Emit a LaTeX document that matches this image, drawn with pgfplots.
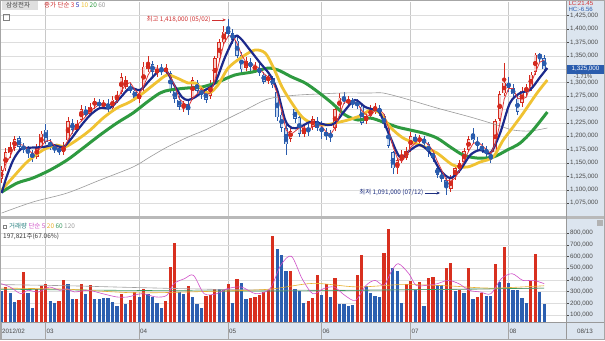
\documentclass[border=0pt]{standalone}
\usepackage{pgfplots}
\pgfplotsset{compat=1.18}
\usepackage{pgfplotstable}
\usetikzlibrary{arrows.meta}
\usepackage{fontspec}
\setmainfont{Liberation Sans}
\newfontfamily\kr{Noto Sans CJK KR}

\definecolor{upred}{HTML}{D42A1E}
\definecolor{upfill}{HTML}{F7CFCB}
\definecolor{dnblue}{HTML}{2A5CAD}
\definecolor{dnfill}{HTML}{CADAF0}
\definecolor{vred}{HTML}{D8301F}
\definecolor{vblue}{HTML}{2C5FB0}
\definecolor{mathree}{HTML}{E0393C}
\definecolor{mafive}{HTML}{1C2A8C}
\definecolor{maten}{HTML}{F0C232}
\definecolor{matwenty}{HTML}{2E9A40}
\definecolor{masixty}{HTML}{9A9A9A}
\definecolor{strip}{HTML}{DCE5EF}
\definecolor{gridc}{HTML}{DDDDDD}
\definecolor{gridv}{HTML}{C8C8C8}
\definecolor{labc}{HTML}{4A4A4A}
\definecolor{hic}{HTML}{D03030}
\definecolor{loc}{HTML}{1E2F80}
\definecolor{vmafive}{HTML}{D050C8}
\definecolor{vmatwenty}{HTML}{E8B030}
\definecolor{vmasixty}{HTML}{3A9A60}
\definecolor{vmaonetwenty}{HTML}{A0A0A0}

\pgfplotstableread{
i o h l c v vu m
0 1120 1145 1112 1137 302 0 1125
1 1140 1178 1135 1170 339 1 1148
2 1168 1190 1160 1180 291 0 1162
3 1178 1200 1172 1195 211 0 1182
4 1196 1200 1175 1180 231 1 1185
5 1182 1188 1168 1175 468 1 1183
6 1176 1182 1160 1170 288 0 1175
7 1168 1175 1152 1160 160 0 1168
8 1162 1185 1158 1178 325 1 1169
9 1180 1210 1178 1205 345 1 1181
10 1212 1222 1185 1190 362 1 1191
11 1188 1195 1175 1182 217 0 1192
12 1180 1186 1168 1175 203 0 1182
13 1176 1182 1165 1172 220 1 1176
14 1170 1190 1165 1180 402 1 1176
15 1192 1235 1190 1228 362 0 1193
16 1225 1232 1205 1212 234 0 1207
17 1212 1230 1208 1222 236 1 1221
18 1230 1258 1228 1250 362 1 1228
19 1248 1256 1236 1240 282 0 1237
20 1242 1262 1238 1255 359 1 1248
21 1258 1272 1250 1265 234 0 1253
22 1262 1270 1250 1258 234 0 1259
23 1256 1268 1250 1262 245 0 1262
24 1260 1270 1245 1250 245 0 1257
25 1252 1275 1248 1268 211 0 1260
26 1268 1285 1262 1275 177 0 1264
27 1282 1318 1278 1310 282 1 1284
28 1292 1312 1288 1305 197 0 1297
29 1292 1300 1280 1285 225 1 1300
30 1285 1290 1266 1272 297 1 1287
31 1270 1285 1262 1278 254 0 1278
32 1290 1338 1285 1330 325 1 1293
33 1325 1350 1320 1335 282 0 1314
34 1335 1340 1312 1320 254 0 1328
35 1318 1332 1310 1325 203 0 1327
36 1326 1335 1315 1320 163 0 1322
37 1320 1335 1312 1328 217 1 1324
38 1318 1322 1280 1285 510 1 1311
39 1285 1290 1262 1270 715 1 1294
40 1268 1275 1248 1255 297 0 1270
41 1255 1265 1245 1260 282 0 1262
42 1260 1265 1240 1248 345 1 1254
43 1272 1310 1268 1305 254 0 1271
44 1300 1305 1280 1285 197 0 1279
45 1285 1292 1270 1278 163 0 1289
46 1282 1290 1262 1268 263 1 1277
47 1275 1305 1270 1298 274 1 1281
48 1300 1350 1296 1345 325 1 1304
49 1345 1382 1340 1375 320 0 1339
50 1375 1405 1370 1395 317 0 1372
51 1400 1418 1385 1390 362 1 1387
52 1392 1400 1372 1380 203 0 1388
53 1378 1385 1345 1350 405 1 1373
54 1352 1358 1318 1325 377 0 1352
55 1328 1348 1322 1340 234 0 1338
56 1338 1345 1322 1330 245 1 1332
57 1325 1338 1318 1330 254 1 1333
58 1328 1335 1312 1318 274 1 1326
59 1315 1320 1298 1302 297 1 1317
60 1305 1315 1298 1310 311 1 1310
61 1308 1312 1290 1295 775 1 1302
62 1282 1285 1228 1235 667 0 1280
63 1240 1245 1208 1215 610 0 1248
64 1215 1222 1165 1185 476 0 1212
65 1195 1215 1190 1210 478 1 1203
66 1250 1255 1225 1232 325 0 1209
67 1235 1240 1198 1205 302 0 1216
68 1205 1222 1198 1215 203 0 1217
69 1215 1222 1200 1210 217 1 1210
70 1218 1238 1212 1232 245 1 1219
71 1228 1235 1210 1215 445 1 1219
72 1215 1228 1195 1210 274 0 1219
73 1208 1215 1192 1200 362 1 1208
74 1205 1212 1190 1198 254 0 1203
75 1215 1255 1210 1250 419 1 1216
76 1250 1280 1245 1272 197 0 1240
77 1272 1282 1260 1265 195 0 1262
78 1262 1275 1255 1268 174 0 1268
79 1268 1272 1252 1260 188 0 1264
80 1262 1270 1250 1258 445 1 1262
81 1255 1260 1220 1225 616 1 1248
82 1228 1245 1222 1238 348 0 1240
83 1238 1258 1232 1250 291 0 1238
84 1248 1262 1242 1255 263 0 1248
85 1252 1258 1238 1245 254 0 1250
86 1238 1242 1215 1222 630 1 1241
87 1215 1220 1178 1182 838 1 1216
88 1170 1172 1130 1140 505 0 1181
89 1140 1160 1130 1155 473 0 1159
90 1155 1175 1150 1165 203 0 1153
91 1160 1180 1155 1172 362 1 1164
92 1175 1208 1170 1200 388 1 1179
93 1198 1205 1185 1190 317 0 1187
94 1192 1202 1186 1195 382 1 1195
95 1195 1200 1180 1188 174 0 1191
96 1185 1190 1162 1170 419 1 1184
97 1168 1175 1152 1160 425 1 1173
98 1140 1148 1122 1128 359 0 1153
99 1128 1135 1115 1120 357 0 1136
100 1118 1122 1091 1105 505 1 1118
101 1102 1128 1095 1122 545 1 1116
102 1125 1145 1118 1140 302 0 1122
103 1138 1156 1132 1150 317 1 1137
104 1152 1178 1148 1172 288 0 1154
105 1175 1200 1170 1195 505 1 1172
106 1205 1215 1188 1192 234 0 1186
107 1190 1198 1175 1182 254 1 1190
108 1180 1188 1168 1175 288 1 1183
109 1175 1182 1162 1168 263 0 1175
110 1165 1170 1150 1160 262 0 1168
111 1170 1232 1165 1228 539 1 1185
112 1232 1285 1228 1278 382 0 1222
113 1280 1336 1275 1300 681 1 1269
114 1300 1310 1282 1290 374 0 1289
115 1290 1298 1270 1278 317 0 1289
116 1270 1275 1240 1245 316 0 1271
117 1262 1292 1255 1285 245 0 1269
118 1285 1298 1275 1290 203 0 1273
119 1290 1320 1285 1315 391 1 1297
120 1320 1355 1315 1352 619 1 1319
121 1352 1356 1338 1348 295 0 1338
122 1345 1352 1322 1325 198 0 1342
}\candles

\pgfplotsset{panel/.style={
  anchor=south west, scale only axis, width=566bp,
  xmin=-0.27, xmax=126.9,
  axis line style={draw=none},
  xtick={10,31,51,72,92,114}, xticklabels={},
  xmajorgrids, ymajorgrids,
  major x grid style={draw=gridv, line width=0.6bp},
  major y grid style={draw=gridc, line width=0.5bp},
  xtick style={draw=none},
  ytick pos=right, yticklabel pos=right,
  tick align=outside, major tick length=3bp,
  ytick style={draw=labc, line width=0.5bp},
  yticklabel style={font=\fontsize{6.3}{7}\selectfont, text=labc, inner sep=1bp},
  yticklabel={\pgfmathprintnumber[assume math mode=true,fixed,precision=0,1000 sep={,}]{\tick},000},
}}

\begin{document}
\begin{tikzpicture}[x=1bp,y=1bp]
\path[use as bounding box] (0,0) rectangle (605,340);
\fill[white] (0,0) rectangle (605,340);
\fill[strip] (566,18) rectangle (605,340);
\fill[strip] (0,0) rectangle (605,18);

% ---------------- price panel ----------------
\begin{axis}[panel, at={(0bp,124bp)}, height=214bp,
  ymin=1051.1, ymax=1450.4, ytick={1075,1100,...,1425}]
% up candles
\addplot[upred, only marks, mark=none, forget plot,
  restrict expr to domain={\thisrow{c}-\thisrow{o}}{0:1000},
  error bars/.cd, y dir=both, y explicit, error mark=none,
  error bar style={line width=0.7bp, draw=upred}]
  table[x=i, y expr={(\thisrow{h}+\thisrow{l})/2}, y error expr={(\thisrow{h}-\thisrow{l})/2}]{\candles};
\addplot[upred, only marks, mark=none, forget plot,
  restrict expr to domain={\thisrow{c}-\thisrow{o}}{0:1000},
  error bars/.cd, y dir=both, y explicit, error mark=none,
  error bar style={line width=3.6bp, draw=upred}]
  table[x=i, y expr={(\thisrow{o}+\thisrow{c})/2}, y error expr={abs(\thisrow{c}-\thisrow{o})/2}]{\candles};
\addplot[upred, only marks, mark=none, forget plot,
  restrict expr to domain={\thisrow{c}-\thisrow{o}}{0:1000},
  error bars/.cd, y dir=both, y explicit, error mark=none,
  error bar style={line width=2bp, draw=upfill}]
  table[x=i, y expr={(\thisrow{o}+\thisrow{c})/2}, y error expr={max(abs(\thisrow{c}-\thisrow{o})/2-1.3,0)}]{\candles};
% down candles
\addplot[dnblue, only marks, mark=none, forget plot,
  restrict expr to domain={\thisrow{c}-\thisrow{o}}{-1000:-0.01},
  error bars/.cd, y dir=both, y explicit, error mark=none,
  error bar style={line width=0.7bp, draw=dnblue}]
  table[x=i, y expr={(\thisrow{h}+\thisrow{l})/2}, y error expr={(\thisrow{h}-\thisrow{l})/2}]{\candles};
\addplot[dnblue, only marks, mark=none, forget plot,
  restrict expr to domain={\thisrow{c}-\thisrow{o}}{-1000:-0.01},
  error bars/.cd, y dir=both, y explicit, error mark=none,
  error bar style={line width=3.6bp, draw=dnblue}]
  table[x=i, y expr={(\thisrow{o}+\thisrow{c})/2}, y error expr={abs(\thisrow{c}-\thisrow{o})/2}]{\candles};
\addplot[dnblue, only marks, mark=none, forget plot,
  restrict expr to domain={\thisrow{c}-\thisrow{o}}{-1000:-0.01},
  error bars/.cd, y dir=both, y explicit, error mark=none,
  error bar style={line width=2bp, draw=dnfill}]
  table[x=i, y expr={(\thisrow{o}+\thisrow{c})/2}, y error expr={max(abs(\thisrow{c}-\thisrow{o})/2-1.3,0)}]{\candles};
% MA60
\addplot[masixty, line width=0.6bp, smooth] coordinates {
(0.1,1056.6) (7.1,1077.2) (14.8,1093.9) (22.2,1118.2) (29.6,1142.5) (33.4,1161.1) (37.3,1179.8) (42.0,1198.5)
(45.8,1211.5) (50.3,1230.2) (54.8,1248.8) (59.3,1267.5) (62.2,1273.1) (66.7,1276.8) (71.2,1278.7) (76.6,1280.6)
(82.9,1280.6) (85.8,1280.6) (90.3,1271.2) (97.9,1252.6) (105.4,1235.8) (111.4,1220.9) (115.0,1211.5) (118.8,1209.7) (122.7,1215.3)};
% MA20
\addplot[matwenty, line width=3bp, smooth] coordinates {
(0.1,1095.8) (3.6,1112.6) (7.1,1121.9) (11.0,1136.9) (14.8,1155.5) (18.4,1177.9) (22.2,1202.2) (26.0,1224.6) (29.6,1243.2)
(32.8,1263.8) (35.7,1280.6) (37.9,1286.2) (41.8,1289.9) (45.1,1291.8) (48.7,1301.1) (52.5,1314.2) (56.4,1319.7) (60.0,1327.2)
(62.2,1323.5) (65.3,1310.4) (68.3,1299.2) (71.2,1282.4) (74.3,1261.9) (77.3,1239.5) (80.2,1230.2) (82.9,1233.9) (85.8,1226.5)
(89.0,1217.1) (91.9,1211.5) (94.8,1205.9) (97.9,1196.6) (100.9,1179.8) (103.8,1164.9) (106.9,1159.3) (110.5,1161.1)
(113.7,1174.2) (116.6,1187.3) (119.5,1211.5) (122.7,1245.1)};
% MA10
\addplot[maten, line width=2.8bp, smooth] coordinates {
(0.1,1099.6) (2.7,1123.8) (5.8,1151.8) (9.4,1174.2) (12.5,1183.5) (14.3,1179.8) (17.0,1192.9) (20.0,1211.5) (22.9,1233.9)
(26.0,1252.6) (28.9,1263.8) (31.9,1280.6) (35.0,1301.1) (37.3,1314.2) (39.5,1308.5) (42.0,1299.2) (43.6,1299.2) (46.5,1280.6)
(48.7,1295.5) (51.0,1327.2) (54.1,1347.7) (57.0,1360.8) (59.3,1355.2) (61.1,1329.1) (63.1,1291.8) (65.3,1261.9) (67.6,1235.8)
(69.8,1224.6) (72.8,1220.9) (75.0,1224.6) (77.9,1230.2) (81.1,1239.5) (82.9,1248.8) (85.1,1243.2) (87.4,1217.1) (90.3,1196.6)
(94.1,1183.5) (97.9,1168.6) (101.5,1146.2) (104.7,1142.5) (107.6,1151.8) (110.5,1161.1) (112.8,1192.9) (115.0,1217.1)
(117.3,1243.2) (120.4,1280.6) (122.7,1304.8)};
% MA5
\addplot[mafive, line width=2.2bp, smooth] coordinates {
(0.1,1093.9) (1.2,1123.8) (2.7,1155.5) (4.2,1174.2) (5.3,1177.9) (9.4,1179.8) (11.6,1183.5) (13.9,1179.8) (15.5,1192.9)
(17.7,1217.1) (20.0,1239.5) (22.2,1252.6) (24.4,1252.6) (26.7,1271.2) (28.9,1289.9) (31.2,1286.2) (33.4,1304.8) (35.7,1323.5)
(37.3,1319.7) (38.6,1299.2) (40.6,1273.1) (42.0,1267.5) (43.6,1273.1) (45.8,1286.2) (48.0,1299.2) (50.3,1347.7) (52.5,1385.1)
(53.7,1383.2) (55.9,1360.8) (58.2,1336.5) (60.4,1314.2) (62.0,1286.2) (63.8,1230.2) (65.3,1215.3) (67.1,1217.1) (69.4,1226.5)
(71.2,1224.6) (73.4,1220.9) (75.0,1224.6) (77.3,1248.8) (79.5,1267.5) (81.8,1254.4) (84.0,1248.8) (85.1,1243.2) (87.4,1198.5)
(89.6,1161.1) (91.9,1174.2) (94.1,1183.5) (96.4,1168.6) (98.6,1136.9) (100.9,1121.9) (103.1,1136.9) (105.4,1164.9)
(107.6,1174.2) (109.9,1168.6) (112.1,1205.9) (114.3,1261.9) (116.6,1280.6) (118.8,1286.2) (121.1,1310.4) (122.7,1327.2)};
% MA3
\addplot[mathree, line width=0.8bp] table[x=i, y=m]{\candles};
% annotations
\draw[-{Stealth[length=3.5bp,width=3bp]}, hic, line width=0.6bp] (axis cs:47.4,1417) -- (axis cs:50.5,1417);
\node[anchor=east, text=hic, font=\kr\fontsize{6.4}{7}\selectfont, inner sep=0.5bp] at (axis cs:47.2,1417.5) {최고 1,418,000 (05/02)};
\draw[-{Stealth[length=3.5bp,width=3bp]}, loc, line width=0.6bp] (axis cs:95.2,1094) -- (axis cs:98.6,1094);
\node[anchor=east, text=loc, font=\kr\fontsize{6.4}{7}\selectfont, inner sep=0.5bp] at (axis cs:95.0,1094.5) {최저 1,091,000 (07/12)};
\end{axis}

% ---------------- volume panel ----------------
\begin{axis}[panel, at={(0bp,18bp)}, height=103bp,
  ymin=40.2, ymax=920.5, ytick={100,200,...,800}]
\addplot[ycomb, draw=vred, line width=3.2bp, forget plot,
  restrict expr to domain={\thisrow{vu}}{0.5:2}] table[x=i, y=v]{\candles};
\addplot[ycomb, draw=vblue, line width=3.2bp, forget plot,
  restrict expr to domain={\thisrow{vu}}{-1:0.5}] table[x=i, y=v]{\candles};
\addplot[vmaonetwenty, line width=0.6bp, smooth] coordinates {(0,360) (15,350) (30,335) (50,318) (70,312) (100,318) (122,330)};
\addplot[vmasixty, line width=0.6bp, smooth] coordinates {(0,320) (30,310) (60,305) (90,315) (122,330)};
\addplot[vmatwenty, line width=0.6bp, smooth] coordinates {(0,330) (15,320) (30,290) (45,300) (60,320) (70,370) (80,340) (90,360) (100,350) (110,330) (122,350)};
\addplot[vmafive, line width=0.6bp, smooth] coordinates {
(0,368) (2,339) (4.4,282) (6,311) (8.4,297) (10.8,339) (13.2,311) (14.8,325) (16.4,297) (19.6,311) (22.8,282) (26,254)
(28.4,254) (31.6,282) (34.8,254) (37.2,268) (38.8,368) (41.2,411) (43.2,439) (45.6,282) (48.4,282) (50.8,325) (54,339)
(57.2,282) (60.4,325) (62.8,525) (65.2,602) (67.6,411) (70,282) (72.4,325) (74.8,339) (77.2,268) (79.6,225) (82,354)
(84,396) (86,354) (87.6,468) (89.2,539) (91.6,453) (93.2,354) (95.6,354) (98,368) (100.4,396) (102.8,368) (105.2,311)
(107.6,297) (110,282) (112.4,411) (114.8,453) (117.2,396) (119.6,396) (122,368)};
\end{axis}

% separator
\fill[gray!55] (0,121) rectangle (605,124);
\draw[gray!80, line width=0.5bp] (566,0) -- (566,340);
\draw[gray!80, line width=0.5bp] (0,18) -- (605,18);

% headers
\fill[gray!25] (2,330) rectangle (38,339);
\node[anchor=west, inner sep=0, font=\kr\fontsize{6.5}{7}\selectfont, text=black!75] at (6,334.5) {삼성전자};
\node[anchor=west, inner sep=0, font=\kr\fontsize{6.5}{7}\selectfont] at (44,334.5)
  {\textcolor{hic}{종가 단순}\ \textcolor{mathree}{3}\ \textcolor{mafive!70!blue}{5}\ \textcolor{maten}{10}\ \textcolor{matwenty}{20}\ \textcolor{masixty}{60}};
\draw[gray, line width=0.5bp] (3,320) rectangle (9,326);
\draw[gray, line width=0.5bp] (3,112) rectangle (6,115);
\node[anchor=west, inner sep=0, font=\kr\fontsize{6.5}{7}\selectfont] at (9,113.5)
  {\textcolor{teal!70!gray}{거래량}\ \textcolor{vmafive}{단순 5}\ \textcolor{vmatwenty}{20}\ \textcolor{vmasixty}{60}\ \textcolor{vmaonetwenty}{120}};
\node[anchor=west, inner sep=0, font=\kr\fontsize{6.5}{7}\selectfont, text=black!80] at (3,104) {197,821주(67.06\%)};

% right strip labels
\node[anchor=west, inner sep=0.3bp, font=\fontsize{6.1}{7}\selectfont, text=hic] at (568,336.6) {LC:21.45};
\node[anchor=west, inner sep=0.3bp, font=\fontsize{6.1}{7}\selectfont, text=dnblue] at (568,330.2) {HC:-6.56};
\fill[dnblue] (567,266.5) rectangle (604,275.5);
\node[inner sep=0, font=\fontsize{6.3}{7}\selectfont, text=white] at (585.5,271) {1,325,000};
\node[inner sep=0, font=\fontsize{5.8}{6}\selectfont, text=labc] at (583,263.6) {-1.71\%};
\fill[gray!60] (597,114) rectangle (603,120);

% date strip
\foreach \px/\lab in {1.2/2012\slash 02, 45.7/03, 139.1/04, 228.2/05, 321.6/06, 410.6/07, 508.5/08}{
  \draw[gray!70, line width=0.5bp] (\px,1) -- (\px,18);
  \node[anchor=west, inner sep=0, font=\fontsize{6.3}{7}\selectfont, text=labc] at (\px+0.8,9) {\lab};
}
\node[inner sep=0, font=\fontsize{6.3}{7}\selectfont, text=labc] at (585,9) {08/13};

% outer frame
\draw[gray!70, line width=1bp] (0.5,0.5) rectangle (604.5,339.5);
\end{tikzpicture}
\end{document}
